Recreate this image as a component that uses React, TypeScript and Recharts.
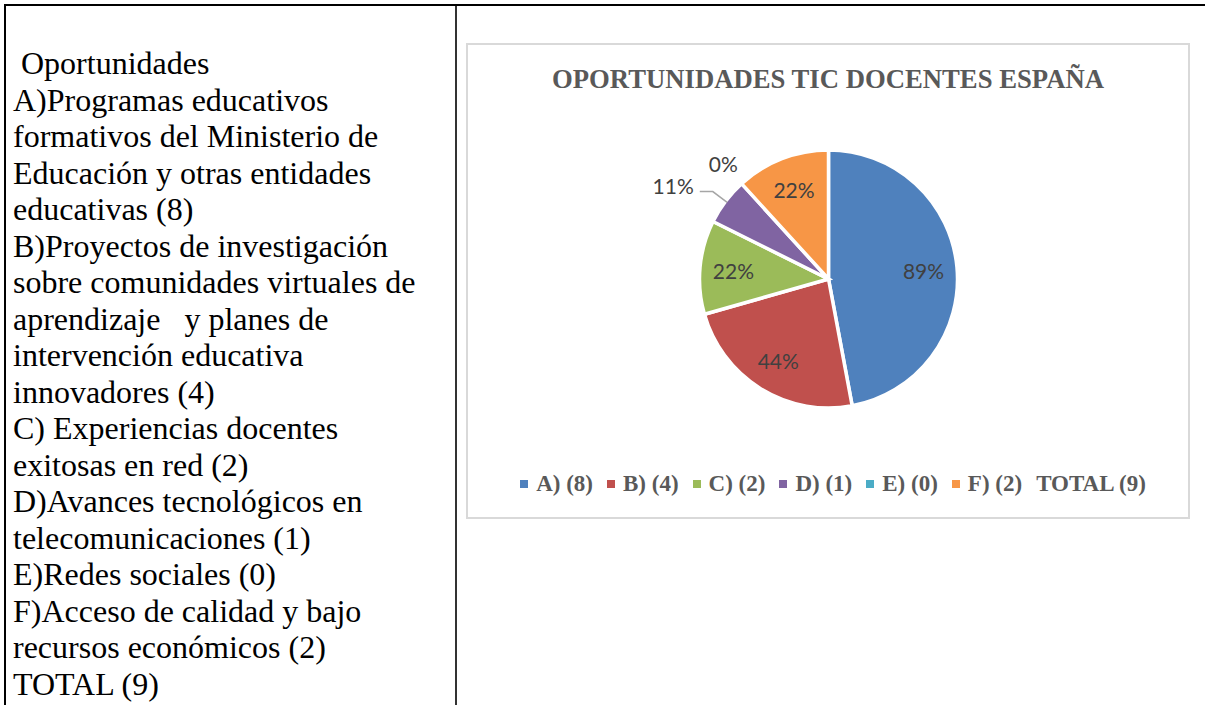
import React from "react";
import { PieChart, Pie, Cell, Legend } from "recharts";

// chart data
const LETTERS = ["A", "B", "C", "D", "E", "F"];
const COUNTS = [8, 4, 2, 1, 0, 2];
const TOTAL = 9;
const COLORS = ["#4F81BD", "#C0504D", "#9BBB59", "#8064A2", "#4BACC6", "#F79646"];

const TITLE = "OPORTUNIDADES TIC DOCENTES ESPAÑA";

// left table cell text, one entry per printed line
const LEFT_LINES = [
  " Oportunidades",
  "A)Programas educativos",
  "formativos del Ministerio de",
  "Educación y otras entidades",
  "educativas (8)",
  "B)Proyectos de investigación",
  "sobre comunidades virtuales de",
  "aprendizaje   y planes de",
  "intervención educativa",
  "innovadores (4)",
  "C) Experiencias docentes",
  "exitosas en red (2)",
  "D)Avances tecnológicos en",
  "telecomunicaciones (1)",
  "E)Redes sociales (0)",
  "F)Acceso de calidad y bajo",
  "recursos económicos (2)",
  "TOTAL (9)",
];

const data = LETTERS.map((l, i) => ({ name: `${l}) (${COUNTS[i]})`, value: COUNTS[i] }));

const RADIAN = Math.PI / 180;
const LABEL_FONT = "Lato, 'Noto Sans', sans-serif";

const renderLabel = (props: any) => {
  const { cx, cy, midAngle, outerRadius, index } = props;
  const v = COUNTS[index];
  const text = `${Math.round((v / TOTAL) * 100)}%`;
  const cos = Math.cos(-midAngle * RADIAN);
  const sin = Math.sin(-midAngle * RADIAN);

  if (v === 0) {
    const x = cx + outerRadius * 1.21 * cos;
    const y = cy + outerRadius * 1.21 * sin;
    return (
      <text x={x} y={y} fill="#404040" fontSize={21} fontFamily={LABEL_FONT} textAnchor="middle" dominantBaseline="central">
        {text}
      </text>
    );
  }
  if (v === 1) {
    // small slice: label outside with a leader line
    const sx = cx + (outerRadius - 2) * cos;
    const sy = cy + (outerRadius - 2) * sin;
    const mx = cx + (outerRadius + 16) * cos;
    const my = cy + (outerRadius + 16) * sin;
    const ex = mx - 13;
    return (
      <g>
        <polyline points={`${sx},${sy} ${mx},${my} ${ex},${my}`} fill="none" stroke="#A6A6A6" strokeWidth={1.5} />
        <text x={ex - 6} y={my - 6} fill="#404040" fontSize={21} fontFamily={LABEL_FONT} textAnchor="end" dominantBaseline="central">
          {text}
        </text>
      </g>
    );
  }
  const r = outerRadius * 0.74;
  return (
    <text x={cx + r * cos} y={cy + r * sin} fill="#404040" fontSize={21} fontFamily={LABEL_FONT} textAnchor="middle" dominantBaseline="central">
      {text}
    </text>
  );
};

const renderLegend = (props: any) => {
  const { payload } = props;
  const itemStyle: React.CSSProperties = { display: "flex", alignItems: "center", marginRight: 14 };
  const textStyle: React.CSSProperties = {
    fontFamily: "'Liberation Serif', 'Times New Roman', serif",
    fontWeight: "bold",
    fontSize: 23,
    color: "#595959",
    whiteSpace: "nowrap",
  };
  return (
    <div style={{ display: "flex", justifyContent: "center", alignItems: "center", height: 30, paddingLeft: 10 }}>
      {(payload || []).map((entry: any, index: number) => (
        <div key={`legend-${index}`} style={itemStyle}>
          <span style={{ display: "inline-block", width: 8, height: 8, backgroundColor: entry.color, marginRight: 8 }}></span>
          <span style={textStyle}>{entry.value}</span>
        </div>
      ))}
      <span style={textStyle}>TOTAL ({TOTAL})</span>
    </div>
  );
};

const App: React.FC = () => {
  return (
    <div style={{ position: "absolute", left: 0, top: 0, width: 1205, height: 705, background: "#fff", overflow: "hidden" }}>
      {/* table lines */}
      <div style={{ position: "absolute", left: 4, top: 4, width: 1201, height: 2, background: "#000" }} />
      <div style={{ position: "absolute", left: 4, top: 4, width: 2, height: 701, background: "#000" }} />
      <div style={{ position: "absolute", left: 455, top: 6, width: 2, height: 699, background: "#333" }} />

      {/* left cell */}
      <div
        style={{
          position: "absolute",
          left: 13,
          top: 45,
          fontFamily: "'Liberation Serif', 'Times New Roman', serif",
          fontSize: 32,
          lineHeight: "36.5px",
          color: "#000",
          whiteSpace: "pre",
        }}
      >
        {LEFT_LINES.map((line, i) => (
          <div key={i}>{line}</div>
        ))}
      </div>

      {/* chart box */}
      <div
        style={{
          position: "absolute",
          left: 466,
          top: 43,
          width: 724,
          height: 476,
          boxSizing: "border-box",
          border: "2px solid #D9D9D9",
          background: "#fff",
        }}
      >
        <div
          style={{
            position: "absolute",
            left: 0,
            top: 21,
            width: 720,
            textAlign: "center",
            fontFamily: "'Liberation Serif', 'Times New Roman', serif",
            fontWeight: "bold",
            fontSize: 26.7,
            lineHeight: "26.5px",
            color: "#595959",
            whiteSpace: "nowrap",
          }}
        >
          {TITLE}
        </div>
        <PieChart width={720} height={472} margin={{ top: 0, right: 0, bottom: 0, left: 0 }}>
          <Pie
            data={data}
            dataKey="value"
            nameKey="name"
            cx={360.5}
            cy={234}
            outerRadius={129}
            startAngle={90}
            endAngle={-270}
            stroke="#FFFFFF"
            strokeWidth={3.5}
            label={renderLabel}
            labelLine={false}
            isAnimationActive={false}
          >
            {data.map((entry, index) => (
              <Cell key={`cell-${index}`} fill={COLORS[index % COLORS.length]} />
            ))}
          </Pie>
          <Legend verticalAlign="bottom" content={renderLegend} wrapperStyle={{ bottom: 18, left: 0, width: 720 }} />
        </PieChart>
      </div>
    </div>
  );
};

export default App;
